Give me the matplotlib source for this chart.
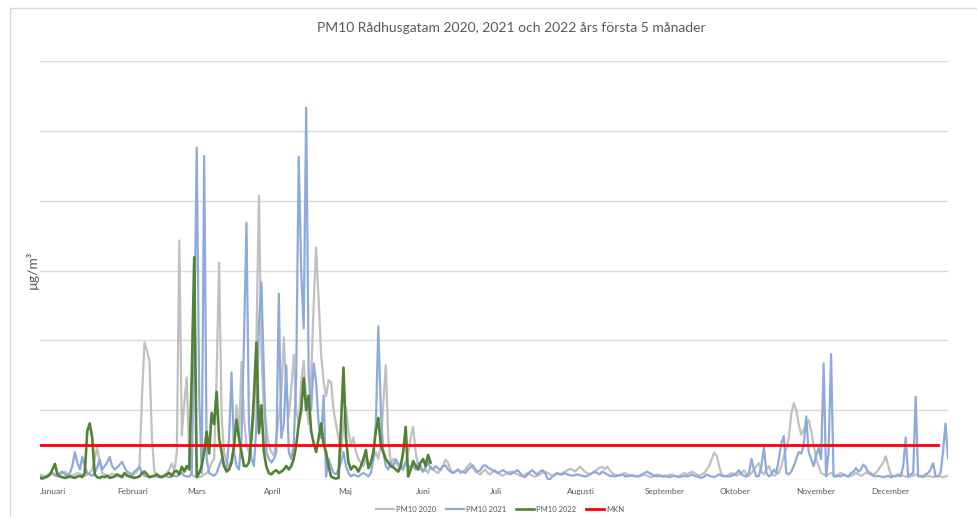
import numpy as np
import matplotlib
matplotlib.use("Agg")
import matplotlib.pyplot as plt
from matplotlib.patches import Rectangle

plt.rcParams['font.family'] = ['Lato', 'DejaVu Sans']

title = "PM10 Rådhusgatam 2020, 2021 och 2022 års första 5 månader"
ylabel = "µg/m³"
months = ["Januari", "Februari", "Mars", "April", "Maj", "Juni", "Juli",
          "Augusti", "September", "Oktober", "November", "December"]
month_start_day = [0, 31, 59, 90, 120, 151, 181, 212, 243, 273, 304, 334]

series_names = ["PM10 2020", "PM10 2021", "PM10 2022", "MKN"]

pm10_2020 = [
    8,6,5,7,10,8,6,5,8,10,
    12,9,7,6,8,10,9,7,6,8,
    10,15,30,47,25,10,8,6,7,9,
    8,6,5,7,9,8,6,5,10,12,
    20,120,197,185,171,60,12,8,6,5,
    7,10,15,24,12,40,343,64,110,147,
    30,8,5,6,4,5,8,10,15,25,
    30,150,311,90,40,25,20,30,45,107,
    60,169,90,50,40,60,90,200,407,180,
    100,76,50,40,35,60,90,120,204,130,
    90,130,179,100,80,140,171,110,80,150,
    250,333,260,180,140,120,143,140,100,80,
    60,40,80,104,70,50,61,40,30,25,
    20,30,25,20,30,40,30,50,110,164,
    60,24,30,25,20,15,20,25,40,60,
    76,40,20,15,12,15,10,20,15,12,
    10,15,20,29,25,15,10,12,15,10,
    12,15,20,24,18,12,10,8,12,15,
    10,8,12,14,10,8,6,8,10,12,
    12,10,8,6,5,8,10,8,6,5,
    6,8,10,12,10,8,6,7,9,8,
    10,12,14,16,15,12,15,19,16,12,
    10,8,10,12,15,18,19,15,19,14,
    10,8,7,6,8,10,8,7,6,5,
    6,5,7,8,6,5,4,6,8,7,
    6,5,6,7,8,6,5,6,8,10,
    8,10,12,10,8,6,8,10,15,20,
    30,39,35,20,8,6,5,8,10,8,
    6,8,10,14,8,6,10,15,20,24,
    12,8,15,20,10,6,8,10,20,35,
    45,60,95,110,100,80,65,72,80,86,
    70,50,30,20,10,8,6,8,10,8,
    6,8,10,8,6,5,6,8,10,8,
    6,8,10,12,10,8,10,15,20,25,
    34,20,8,6,5,6,8,6,5,4,
    5,6,8,6,5,4,5,6,5,4,
    5,6,5,4,5,6,
]

pm10_2021 = [
    5,4,3,5,8,10,8,6,10,12,
    8,6,10,20,40,25,15,33,20,10,
    8,6,10,18,29,15,20,25,33,20,
    15,18,22,26,18,12,10,8,12,15,
    19,10,6,5,4,5,6,5,4,5,
    6,5,4,5,6,5,8,10,6,5,
    5,10,200,476,120,10,464,30,10,8,
    6,10,20,30,20,15,60,154,40,20,
    15,60,200,368,80,30,20,80,224,283,
    150,40,30,25,30,40,267,60,80,164,
    40,30,50,150,463,300,217,533,150,100,
    167,140,80,60,121,5,30,20,10,8,
    15,25,40,20,10,5,8,6,5,8,
    10,8,5,10,30,80,220,100,40,20,
    15,25,20,30,24,20,15,25,20,18,
    20,15,25,20,12,18,26,17,15,20,
    17,14,20,21,15,12,10,12,15,12,
    12,10,15,18,21,15,12,14,20,21,
    18,16,14,12,10,12,14,12,10,8,
    10,12,14,10,6,4,8,12,14,10,
    8,12,14,10,2,1,5,8,10,8,
    8,10,8,7,6,7,8,7,6,5,
    6,8,10,12,10,8,12,10,8,6,
    6,5,6,7,8,6,5,6,7,6,
    5,6,8,10,12,10,8,6,5,6,
    5,6,5,4,5,6,5,4,5,6,
    5,6,8,6,5,4,3,5,8,6,
    5,4,6,8,6,5,6,5,6,8,
    10,14,8,6,5,10,30,15,5,6,
    20,47,10,5,8,15,10,30,53,63,
    10,8,12,20,30,40,38,50,91,40,
    30,20,35,46,30,167,5,40,180,5,
    5,6,5,8,6,5,10,12,17,12,
    15,22,18,10,8,6,5,6,5,4,
    5,6,4,5,6,8,5,20,61,5,
    8,10,119,5,6,5,8,10,15,24,
    6,5,10,40,81,31,
]

pm10_2022 = [
    3,2,4,5,8,15,23,8,5,4,
    3,4,5,4,3,5,6,4,10,70,
    81,60,8,4,3,5,4,6,3,4,
    5,8,6,4,10,6,5,4,3,4,
    5,10,12,8,4,5,6,8,5,4,
    6,8,10,6,12,13,8,19,12,20,
    15,150,319,4,10,20,40,69,38,96,
    80,126,60,40,20,12,15,25,50,86,
    60,40,20,20,25,60,120,197,67,107,
    40,19,10,8,12,14,10,12,15,20,
    15,20,30,50,80,100,146,100,121,70,
    53,40,60,81,50,40,20,5,3,2,
    3,80,161,60,25,15,20,18,12,20,
    30,43,17,25,40,70,89,50,40,30,
    25,20,18,15,12,20,40,76,5,15,
    27,20,15,25,30,20,36,25,
]

mkn_value = 50
mkn_days = [0, 361]

W, H = 978, 517
fig = plt.figure(figsize=(W / 100, H / 100), dpi=100)
fig.patch.set_facecolor("white")
fig.patches.append(Rectangle((10 / W, -0.02), 1.0, (517 - 8) / H + 0.02,
                             transform=fig.transFigure, fill=False,
                             edgecolor="#d9d9d9", lw=1.0))

ax = fig.add_axes([40 / W, 37 / H, 908 / W, (480 - 61) / H])
ax.set_xlim(0, 365)
ax.set_ylim(0, 600)
ax.set_yticks(np.arange(0, 601, 100))
ax.yaxis.grid(True, color="#d9d9d9", lw=1.0)
ax.set_axisbelow(True)
ax.tick_params(axis="y", length=0, labelleft=False)
for s in ax.spines.values():
    s.set_visible(False)

ax.plot(np.arange(len(pm10_2020)), pm10_2020, color="#c0c0c0", lw=1.6, label=series_names[0])
ax.plot(np.arange(len(pm10_2021)), pm10_2021, color="#8eaadb", lw=1.6, label=series_names[1])
ax.plot(np.arange(len(pm10_2022)), pm10_2022, color="#548235", lw=1.9, label=series_names[2])
ax.plot(mkn_days, [mkn_value, mkn_value], color="#ff0000", lw=2.0, label=series_names[3])

ax.set_xticks(month_start_day)
ax.set_xticklabels(months, ha="left", fontsize=6, color="#595959")
ax.tick_params(axis="x", length=0, pad=6)

fig.text(511 / W, 1 - 28 / H, title, ha="center", va="center", fontsize=10, color="#595959")
fig.text(32 / W, 1 - 270 / H, ylabel, rotation=90, ha="center", va="center", fontsize=10, color="#595959")

fig.legend(loc="center", bbox_to_anchor=(500 / W, 1 - 509 / H), ncol=4, frameon=False,
           fontsize=5.5, handlelength=2.4, handletextpad=0.3, columnspacing=1.2,
           labelcolor="#595959")

fig.savefig("out.png", dpi=100)
